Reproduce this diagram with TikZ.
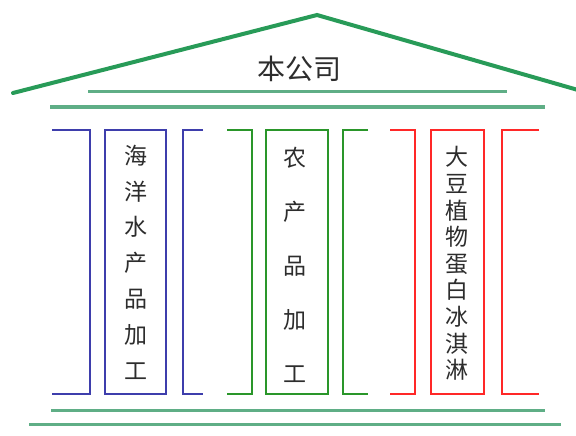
\documentclass[tikz,border=0pt]{standalone}
\usepackage{fontspec}
\newfontfamily\cjk{Noto Sans CJK SC}
\definecolor{roofgreen}{RGB}{40,155,88}
\definecolor{linegreen}{RGB}{95,174,134}
\definecolor{pblue}{RGB}{62,62,172}
\definecolor{pgreen}{RGB}{42,150,42}
\definecolor{pred}{RGB}{255,40,40}
\definecolor{txt}{RGB}{45,45,45}
\begin{document}
\begin{tikzpicture}[x=1pt,y=-1pt,
  roof/.style={draw=roofgreen,line width=4pt,line cap=round,line join=miter},
  beam/.style={draw=linegreen,line width=3pt},
  bracket/.style={line width=2.8pt},
  colbox/.style={draw,line width=2.8pt,minimum width=#1,minimum height=264pt,inner sep=0pt},
  coltext/.style={text=txt,align=center,inner sep=0pt}]
\useasboundingbox (0,0) rectangle (576,436);
\fill[white] (0,0) rectangle (576,436);
% roof
\coordinate (rl) at (13,93);
\coordinate (apex) at (317,15);
\coordinate (rr) at (578,90);
\draw[roof] (rl) -- (apex) -- (rr);
\node[text=txt,font=\cjk\fontsize{28}{32}\selectfont] (title) at (299,69) {本公司};
% beams
\draw[beam] (88,92) -- (507,92);
\draw[beam] (50,107) -- (545,107);
\draw[beam] (51,410) -- (545,410);
\draw[beam] (29,424) -- (561,424);
% blue column
\draw[bracket,pblue] (52,130) -- (90,130) -- (90,394) -- (52,394);
\node[colbox=61pt,draw=pblue] (box1) at (135.5,262) {};
\draw[bracket,pblue] (203,130) -- (183,130) -- (183,394) -- (203,394);
\node[coltext,font=\cjk\fontsize{23}{35.8}\selectfont] (t1) at (box1) {海\\洋\\水\\产\\品\\加\\工};
% green column
\draw[bracket,pgreen] (227,130) -- (252,130) -- (252,394) -- (227,394);
\node[colbox=62pt,draw=pgreen] (box2) at (297,262) {};
\draw[bracket,pgreen] (368,130) -- (343,130) -- (343,394) -- (368,394);
\node[coltext,font=\cjk\fontsize{23}{54}\selectfont] (t2) at (295,265) {农\\产\\品\\加\\工};
% red column
\draw[bracket,pred] (390,130) -- (415,130) -- (415,394) -- (390,394);
\node[colbox=53pt,draw=pred] (box3) at (457.5,262) {};
\draw[bracket,pred] (539,130) -- (502,130) -- (502,394) -- (539,394);
\node[coltext,font=\cjk\fontsize{23}{26.6}\selectfont] (t3) at (457,263.5) {大\\豆\\植\\物\\蛋\\白\\冰\\淇\\淋};
\end{tikzpicture}
\end{document}
